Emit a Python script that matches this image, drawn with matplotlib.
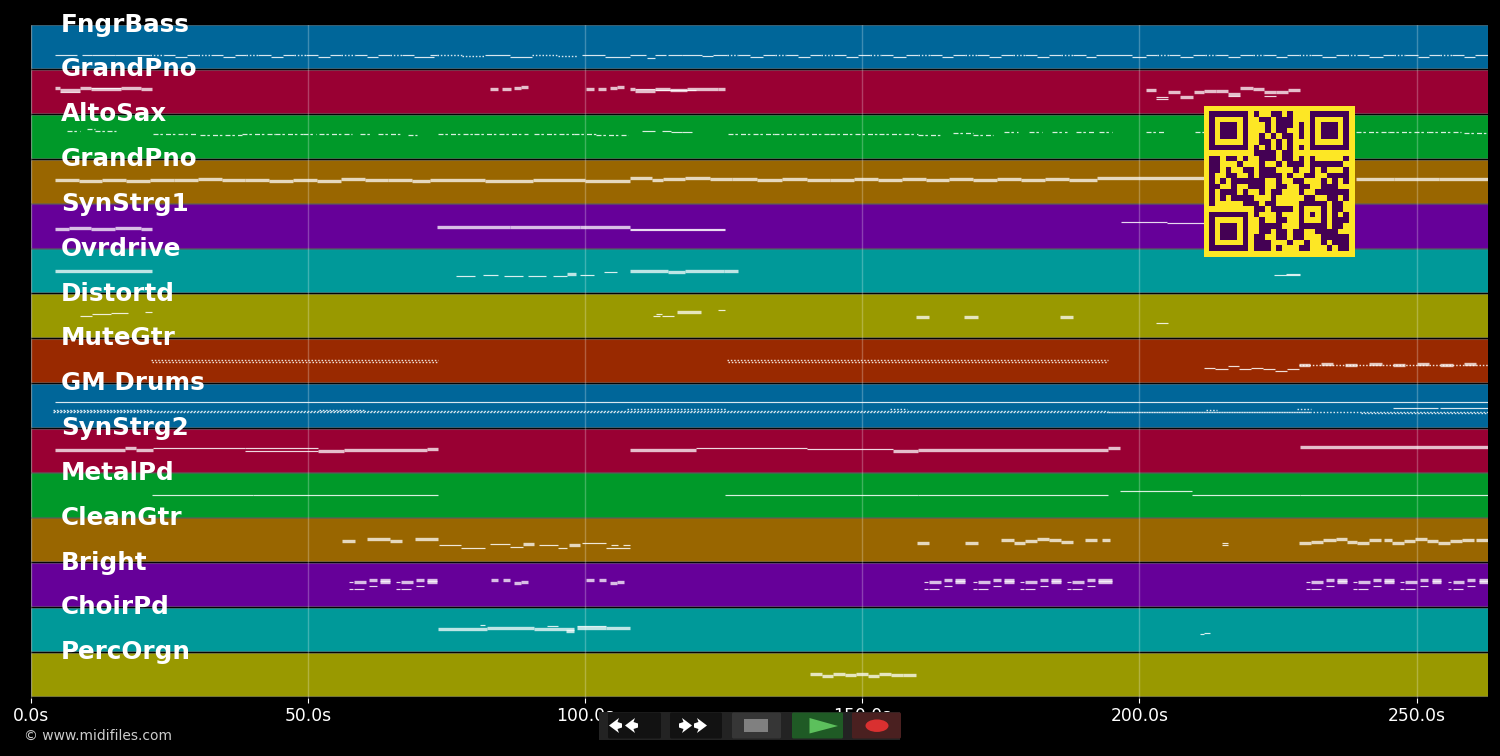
import numpy as np
import matplotlib
matplotlib.use("Agg")
import matplotlib.pyplot as plt
from matplotlib.colors import ListedColormap
from matplotlib.patches import Rectangle, Polygon, Ellipse, FancyBboxPatch

track_names = ["FngrBass", "GrandPno", "AltoSax", "GrandPno", "SynStrg1", "Ovrdrive", "Distortd", "MuteGtr",
               "GM Drums", "SynStrg2", "MetalPd", "CleanGtr", "Bright", "ChoirPd", "PercOrgn"]
track_colors = ["#006699", "#990033", "#009929", "#996600", "#660099", "#009999", "#999900", "#992900",
                "#006699", "#990033", "#009929", "#996600", "#660099", "#009999", "#999900"]
tick_values = [0, 50, 100, 150, 200, 250]
tick_labels = ["0.0s", "50.0s", "100.0s", "150.0s", "200.0s", "250.0s"]
song_end = 262.8

# notes: (start sec, end sec, pitch)
bass_thin = [(4.3, 8.3, 39), (9.2, 11, 38), (11, 15.2, 38), (15.2, 21.5, 39), (24, 26, 39),
             (26, 28.2, 33), (28.2, 30.2, 39), (32.4, 34.6, 39), (34.6, 36.8, 33), (36.8, 38.8, 39), (41, 43.3, 39),
             (43.3, 45.5, 33), (45.5, 47.5, 39), (49.7, 51.8, 39), (51.8, 54, 33), (54, 56, 39), (58.4, 60.6, 39),
             (60.6, 62.7, 33), (62.7, 64.7, 39), (67, 69.1, 39), (69.1, 72.8, 33), (72, 73.3, 39), (82, 86.5, 39),
             (86.5, 90.4, 33), (99.4, 103.6, 39), (103.6, 108.1, 33), (108.1, 111, 39), (111.2, 112.5, 29),
             (112.5, 114.5, 37), (115, 117.5, 39), (117.5, 121, 38), (121.1, 123.1, 36), (123.1, 125.5, 39),
             (127.6, 129.8, 39), (129.8, 132, 33), (132, 134.2, 39), (136.2, 138.4, 39), (138.4, 140.6, 33),
             (140.6, 142.6, 39), (144.8, 147, 39), (147, 149.2, 33), (149.2, 151.4, 39), (153.4, 155.6, 39),
             (155.6, 157.8, 33), (157.8, 160, 39), (162.2, 164.4, 39), (164.4, 166.4, 33), (166.4, 168.5, 39),
             (170.7, 172.9, 39), (172.9, 175, 33), (175, 177.2, 39), (179.4, 181.6, 39), (181.6, 183.6, 33),
             (183.6, 185.8, 39), (188, 190.3, 39), (190.3, 192.2, 33), (192.2, 198.7, 39), (198.7, 201.1, 33),
             (201.1, 203.2, 39), (205.3, 207.4, 39), (207.4, 209.6, 33), (209.6, 211.8, 39), (213.9, 216, 39),
             (216, 218.2, 33), (218.2, 220.4, 39), (222.4, 224.6, 39), (224.6, 226.7, 33), (226.7, 228.8, 39),
             (231, 233, 39), (233, 235.4, 33), (235.4, 237.5, 39), (239.3, 241.5, 39), (241.5, 243.9, 33),
             (243.9, 246, 39), (248, 250.2, 39), (250.2, 252.2, 33), (252.2, 254.3, 39), (256.4, 258.5, 39),
             (258.5, 260.6, 33), (260.6, 262.8, 39)]
bass_dots = [(21.5, 24, 38), (30.2, 32.4, 39), (38.8, 41, 39), (47.5, 49.7, 39), (56, 58.4, 39), (64.7, 67, 39),
             (73.3, 77.8, 39), (77.8, 82, 35), (90.4, 95.1, 39), (95.1, 98.6, 35), (125.5, 127.6, 39),
             (134.2, 136.2, 39), (142.6, 144.8, 39), (151.4, 153.4, 39), (160, 162.2, 39), (168.5, 170.7, 39),
             (177.2, 179.4, 39), (185.8, 188, 39), (203.2, 205.3, 39), (211.8, 213.9, 39), (220.4, 222.4, 39),
             (228.8, 231, 39), (237.5, 239.3, 39), (246, 248, 39), (254.3, 256.4, 39)]

piano_thin = [(112.5, 120, 66), (203, 205.2, 47), (203, 205.2, 41), (216, 218.2, 48), (222.5, 224.7, 48),
              (5.2, 8.8, 60), (10.9, 16.2, 72), (108.9, 112.5, 68)]
piano_thick = [(4.3, 5.2, 71), (5.2, 8.8, 65), (8.8, 10.9, 71), (10.9, 16.2, 68), (16.2, 19.8, 71), (19.8, 21.8, 69),
               (82.9, 84.3, 70), (85, 86.6, 70), (87.2, 88.5, 71), (88.5, 89.7, 75), (100.2, 101.6, 70),
               (102.3, 103.8, 70), (104.5, 105.8, 71), (105.8, 107, 75), (108, 108.9, 70), (108.9, 112.5, 63),
               (112.5, 115.3, 70), (115.3, 118.3, 67), (118.3, 124, 70), (124, 125.3, 69),
               (201.1, 203, 66), (205.2, 207.4, 61), (207.4, 209.7, 46), (209.9, 211.7, 61), (211.7, 213.9, 64),
               (213.9, 216, 63), (216, 218.2, 55), (218.2, 220.4, 73), (220.4, 222.5, 68), (222.5, 224.7, 61),
               (224.7, 226.8, 60), (226.8, 228.9, 66)]

alto_thin = [(110.3, 112.5, 76), (113.9, 115.5, 78), (115.5, 117.5, 73), (117.5, 119.3, 75)]
alto_dashes = [(6.5, 8.9, 77), (10.1, 11.5, 83), (11.5, 13.7, 78), (13.7, 15.3, 77), (22, 30, 67), (30.5, 38, 66),
               (38, 44, 68), (44, 49, 67), (49, 51.5, 69), (52, 58, 67), (59.4, 61.2, 69), (62.7, 66.6, 69),
               (68, 69.7, 66), (73.5, 80, 68), (80, 89.7, 67), (90.8, 98, 67), (98, 102, 68), (102, 107.8, 65),
               (125.8, 134, 69), (134, 144.2, 68), (144.2, 153, 67), (153, 160, 69), (160, 164.6, 66),
               (166.4, 170, 70), (170, 173.6, 66), (175.6, 178, 74), (180, 182.5, 74), (184.3, 187, 74),
               (188.6, 192, 73), (192.7, 195, 74), (201.1, 204.4, 74), (210, 211.6, 73), (239, 245, 74),
               (245, 252, 73), (252, 258, 74), (258.5, 262.8, 72)]

piano2_thick = [(4.3, 8.6, 66), (8.6, 12.9, 63), (12.9, 17.2, 66), (17.2, 21.5, 63), (21.5, 25.8, 66), (25.8, 30.1, 64),
                (30.1, 34.4, 67), (34.4, 38.7, 64), (38.7, 43, 66), (43, 47.3, 63), (47.3, 51.6, 66), (51.6, 55.9, 63),
                (55.9, 60.2, 67), (60.2, 64.5, 64), (64.5, 68.8, 66), (68.8, 72, 62), (72, 82, 66), (82, 90.6, 61),
                (90.6, 100, 65), (100, 108.1, 62), (108.1, 112, 70), (112, 114, 66), (114, 118, 68), (118, 122.5, 70),
                (122.5, 126.5, 67), (126.5, 131, 69), (131, 135.5, 65), (135.5, 140, 69), (140, 144.2, 66),
                (144.2, 148.5, 65), (148.5, 152.8, 68), (152.8, 157.1, 65), (157.1, 161.4, 68), (161.4, 165.7, 64),
                (165.7, 170, 68), (170, 174.3, 64), (174.3, 178.6, 68), (178.6, 182.9, 65), (182.9, 187.2, 68),
                (187.2, 192.4, 64), (192.4, 212, 71), (239, 246, 69), (246, 254, 68), (254, 262.8, 69)]

strings_thin = [(108.1, 125.3, 53), (108.1, 125.3, 50), (196.6, 205, 72), (205, 211.6, 70)]
strings_thick = [(4.3, 6.8, 54), (6.8, 10.9, 55), (10.9, 15.2, 53), (15.2, 19.8, 55), (19.8, 21.8, 53),
                 (73.3, 86.5, 59), (86.5, 99, 60), (99, 108.1, 59)]

ovrdrive_thin = [(76.7, 80.1, 46), (81.6, 84.3, 49), (85.4, 88.8, 47), (89.7, 93, 47), (94.2, 96.8, 46),
                 (99.1, 101.6, 49), (103.4, 105.8, 58), (224.2, 228.9, 51), (226.5, 228.9, 54)]
ovrdrive_thick = [(4.3, 21.8, 60), (96.8, 98.4, 53), (108.1, 115, 60), (115, 118, 57), (118, 125, 60), (125, 127.6, 60)]

distortd_thin = [(8.8, 11, 62), (11, 14.4, 66), (14.4, 17.5, 70), (20.5, 21.8, 72), (112.3, 113.5, 61),
                 (112.8, 113.9, 66), (113.9, 116, 61), (124, 125.3, 77), (202.9, 205.2, 41)]
distortd_thick = [(116.6, 120.9, 72), (159.7, 162.1, 58), (168.4, 170.8, 59), (185.7, 188.1, 59)]

mute_thin = [(211.6, 213.7, 41), (213.7, 216, 38), (216, 218, 46), (218, 220.2, 38), (220.2, 222.3, 41),
             (222.3, 224.4, 38), (224.4, 226.6, 33), (226.6, 228.7, 38)]
mute_thick = [(228.7, 230.8, 50), (232.8, 234.9, 52), (237, 239.3, 50), (241.5, 243.8, 52), (245.7, 247.9, 50),
              (250, 252.3, 52), (254.3, 256.5, 50), (258.5, 260.7, 52)]
mute_dots = [(21.7, 73.5, 62), (21.9, 73.5, 58), (125.5, 194.4, 62), (125.7, 194.4, 58), (228.7, 262.8, 49)]

drums_thin = [(4.3, 262.8, 70), (245.8, 253.8, 53), (254.2, 262.8, 53)]
drums_dots = [(4, 262.8, 43), (4.2, 194.4, 45), (4, 22, 49), (52, 60, 47), (107.6, 125.6, 50), (155, 158, 52),
              (194.4, 231, 44), (212, 214, 48), (228.5, 231, 50), (240, 262.8, 41)]

synstrg2_thin = [(22, 38.6, 68), (38.6, 51.8, 68), (38.6, 51.8, 60), (120, 140, 68), (140, 155.6, 66)]
synstrg2_thick = [(4.3, 17, 63), (17, 19, 67), (19, 22, 61), (51.8, 56.4, 60), (56.4, 71.5, 63), (71.5, 73.5, 66),
                  (108.1, 120, 62), (155.6, 160, 60), (160, 194.4, 62), (194.4, 196.5, 68), (228.9, 262.8, 70)]

metal_thin = [(21.8, 40, 63), (40, 73.4, 62), (125.3, 160, 63), (160, 194.4, 62), (196.5, 209.5, 72),
              (209.5, 229, 63), (229, 262.8, 63)]

cleangtr_thin = [(73.6, 77.6, 47), (77.6, 81.9, 39), (82.8, 86.5, 50), (86.5, 88.7, 41), (91.7, 95.1, 48),
                 (95.1, 96.7, 39), (99.5, 103.8, 53), (104.7, 106, 46), (106.8, 108.1, 46), (103.8, 108.1, 39),
                 (214.9, 216, 53), (214.9, 216, 47)]
cleangtr_thick = [(56.1, 58.5, 58), (60.6, 64.8, 64), (64.8, 67, 59), (69.2, 73.5, 63), (88.7, 90.8, 49), (97, 99.1, 48),
                  (159.8, 162.1, 53), (168.6, 170.8, 53), (175.1, 177.3, 61), (177.3, 179.4, 53), (179.4, 181.6, 58),
                  (181.6, 183.7, 63), (183.7, 185.9, 60), (185.9, 188.1, 56), (190.2, 192.3, 61), (193.2, 194.6, 61),
                  (228.7, 230.9, 53), (230.9, 233.2, 56), (233.2, 235.4, 61), (235.4, 237.5, 63), (237.5, 239.3, 56),
                  (239.3, 241.4, 53), (241.4, 243.6, 61), (244.2, 245.6, 61), (245.6, 247.7, 53), (247.7, 249.8, 58),
                  (249.8, 251.9, 63), (251.9, 253.9, 59), (253.9, 256, 54), (256, 258.2, 59), (258.2, 260.3, 62),
                  (260.8, 262.8, 60)]

bright_thin = [(57.4, 58.1, 70), (57.4, 58.1, 50), (58.3, 60.1, 50), (60.9, 62.4, 57),
               (65.9, 66.6, 70), (65.9, 66.6, 50), (66.8, 68.6, 50), (69.4, 70.9, 57),
               (161.2, 161.9, 70), (161.2, 161.9, 50), (162.1, 163.9, 50), (164.7, 166.2, 57),
               (170, 170.7, 70), (170, 170.7, 50), (170.9, 172.7, 50), (173.5, 175, 57),
               (178.5, 179.2, 70), (178.5, 179.2, 50), (179.4, 181.2, 50), (182, 183.5, 57),
               (187, 187.7, 70), (187, 187.7, 50), (187.9, 189.7, 50), (190.5, 192, 57),
               (230.1, 230.8, 70), (230.1, 230.8, 50), (231, 232.8, 50), (233.6, 235.1, 57),
               (238.6, 239.3, 70), (238.6, 239.3, 50), (239.5, 241.3, 50), (242.1, 243.6, 57),
               (247.1, 247.8, 70), (247.1, 247.8, 50), (248, 249.8, 50), (250.6, 252.1, 57),
               (255.6, 256.3, 70), (255.6, 256.3, 50), (256.5, 258.3, 50), (259.1, 260.6, 57)]
bright_thick = [(58.3, 60.4, 70), (60.9, 62.4, 75), (63, 64.8, 76), (63, 64.8, 68),
                (66.8, 68.9, 70), (69.4, 70.9, 75), (71.5, 73.3, 76), (71.5, 73.3, 68),
                (83, 84.3, 74), (85.1, 86.5, 74), (87.2, 88.5, 66), (88.5, 89.7, 70),
                (100.2, 101.6, 74), (102.4, 103.8, 74), (104.5, 105.8, 66), (105.8, 107, 70),
                (162.1, 164.2, 70), (164.7, 166.2, 75), (166.8, 168.6, 76), (166.8, 168.6, 68),
                (170.9, 173, 70), (173.5, 175, 75), (175.6, 177.4, 76), (175.6, 177.4, 68),
                (179.4, 181.5, 70), (182, 183.5, 75), (184.1, 185.9, 76), (184.1, 185.9, 68),
                (187.9, 190, 70), (190.5, 192, 75), (192.6, 195, 76), (192.6, 195, 68),
                (231, 233.1, 70), (233.6, 235.1, 75), (235.7, 237.5, 76), (235.7, 237.5, 68),
                (239.5, 241.6, 70), (242.1, 243.6, 75), (244.2, 246, 76), (244.2, 246, 68),
                (248, 250.1, 70), (250.6, 252.1, 75), (252.7, 254.5, 76), (252.7, 254.5, 68),
                (256.5, 258.6, 70), (259.1, 260.6, 75), (261.2, 262.8, 76), (261.2, 262.8, 68)]

choir_thin = [(81, 82, 74), (93.1, 95.1, 72), (98.6, 103.8, 72), (210.9, 211.6, 48), (211.6, 212.8, 51)]
choir_thick = [(73.4, 82.2, 63), (82.2, 90.8, 66), (90.8, 98, 64), (96.5, 98, 57), (98.6, 103.8, 66), (103.8, 108.1, 66)]

perc_thick = [(140.5, 142.7, 63), (142.7, 144.7, 57), (144.7, 146.8, 62), (146.8, 148.9, 59), (148.9, 151, 62),
              (151, 153, 58), (153, 155.2, 62), (155.2, 157.3, 59), (157.3, 159.6, 61)]

# (thin, thick, dotted, dashed) per track, top to bottom
track_notes = [(bass_thin, [], bass_dots, []),
               (piano_thin, piano_thick, [], []),
               (alto_thin, [], [], alto_dashes),
               ([], piano2_thick, [], []),
               (strings_thin, strings_thick, [], []),
               (ovrdrive_thin, ovrdrive_thick, [], []),
               (distortd_thin, distortd_thick, [], []),
               (mute_thin, mute_thick, mute_dots, []),
               (drums_thin, [], drums_dots, []),
               (synstrg2_thin, synstrg2_thick, [], []),
               (metal_thin, [], [], []),
               (cleangtr_thin, cleangtr_thick, [], []),
               (bright_thin, bright_thick, [], []),
               (choir_thin, choir_thick, [], []),
               ([], perc_thick, [], [])]

qr_rows = ["#######.#..##.#...#######",
           "#.....#..##.###...#.....#",
           "#.###.#...#.###.#.#.###.#",
           "#.###.#...#.##..#.#.###.#",
           "#.###.#..#.#.##.#.#.###.#",
           "#.....#..##.#.#...#.....#",
           "#######.#.#.#.#.#.#######",
           "........####.##..........",
           "##.##.#..###.##.#.#.....#",
           "##...#...#..#.###.######.",
           "##.#..##.###...#..#.#...#",
           "#..##..#.####.#..##..####",
           "#.#.######..#..##...#.#.#",
           "##..#..###..##..##..###..",
           "#.###.#..#.##...#..######",
           "#.#.####...#.....##..##.#",
           "#.....###.##....#####.##.",
           "........##.####.#...#.##.",
           "#######.#...#...#.#.#.#.#",
           "#.....#..#..##..#...#.###",
           "#.###.#..####...#####.##.",
           "#.###.#..##.##.##..####..",
           "#.###.#.##..##.##...#####",
           "#.....#.###...#..#..#.###",
           "#######.###.#...##...#.##"]

plt.rcParams["font.family"] = "DejaVu Sans"
fig = plt.figure(figsize=(15, 7.56), dpi=100, facecolor="black")
ax = fig.add_axes([31 / 1500, 1 - 697.5 / 756, 1456.5 / 1500, 672.5 / 756])
ax.set_facecolor("black")
ax.set_xlim(0, song_end)
ax.set_ylim(15, 0)


def draw_notes(row, notes, **style):
    if not notes:
        return
    starts, ends, pitches = zip(*notes)
    ys = row + 0.965 - np.array(pitches) / 128
    ax.hlines(ys, starts, ends, zorder=4, **style)


for row, (name, color) in enumerate(zip(track_names, track_colors)):
    ax.barh(row, song_end, height=0.965, left=0, align="edge", color=color,
            edgecolor=(1, 1, 1, 0.22), linewidth=0.8, zorder=1)
    ax.text(5.4, row + 0.145, name, color="white", fontsize=17.7, fontweight="bold", va="baseline", ha="left", zorder=6)
    thin, thick, dots, dashes = track_notes[row]
    draw_notes(row, thin, colors="white", linewidths=0.85, alpha=0.85)
    draw_notes(row, thick, colors="white", linewidths=2.4, alpha=0.75)
    draw_notes(row, dots, colors="white", linewidths=1.0, alpha=0.85, linestyles=[(0, (1.1, 1.3))])
    draw_notes(row, dashes, colors="white", linewidths=0.9, alpha=0.85, linestyles=[(0, (4, 1.5, 2, 2.5))])

ax.set_xticks(tick_values)
ax.set_xticklabels(tick_labels)
ax.set_yticks([])
ax.tick_params(axis="x", colors="white", labelsize=12.3, length=3.5, pad=3)
ax.grid(axis="x", color="white", alpha=0.25, linewidth=1, zorder=3)
ax.set_axisbelow(False)
for spine in ax.spines.values():
    spine.set_visible(False)

fig.text(24 / 1500, 1 - 736 / 756, "© www.midifiles.com", color="#cccccc", fontsize=10, va="center", ha="left")

# qr code and player buttons sit on top, drawn in pixel coordinates
ui = fig.add_axes([0, 0, 1, 1], zorder=5)
ui.patch.set_alpha(0)
ui.axis("off")

qr = np.array([[c == "#" for c in r] for r in qr_rows], dtype=int)
ui.add_patch(Rectangle((1204, 106), 150.5, 150.5, color="#fde725", lw=0))
ui.imshow(qr, extent=(1209.3, 1349.3, 251, 111), cmap=ListedColormap(["#fde725", "#440154"]),
          interpolation="nearest", aspect="auto", zorder=2)
ui.set_xlim(0, 1500)
ui.set_ylim(756, 0)

ui.add_patch(Rectangle((599, 711.5), 301, 28.5, color="#232323", lw=0))
for x0, x1, col in [(608, 661, "#121212"), (670, 722, "#121212"), (732, 781, "#363636"),
                    (792, 843, "#1f5a25"), (852, 901, "#4a2020")]:
    ui.add_patch(FancyBboxPatch((x0 + 1.5, 714), x1 - x0 - 3, 23, boxstyle="round,pad=1.5", color=col, lw=0))

for tip in [609, 625]:
    ui.add_patch(Polygon([(tip, 725.5), (tip + 10, 718), (tip + 8.5, 722), (tip + 13, 723.5), (tip + 13, 727.5),
                          (tip + 8.5, 729), (tip + 10, 733)], color="white", lw=0))
for tip in [692, 707]:
    ui.add_patch(Polygon([(tip, 725.5), (tip - 10, 718), (tip - 8.5, 722), (tip - 13, 723.5), (tip - 13, 727.5),
                          (tip - 8.5, 729), (tip - 10, 733)], color="white", lw=0))

ui.add_patch(Rectangle((744, 719), 24, 13, color="#808080", lw=0))
ui.add_patch(Polygon([(809.5, 718), (838, 726), (809.5, 733.5)], color="#5cc05c", lw=0))
ui.add_patch(Ellipse((877, 725.7), 23, 12.5, color="#d93030", lw=0))

fig.savefig("out.png", dpi=100, facecolor="black")
